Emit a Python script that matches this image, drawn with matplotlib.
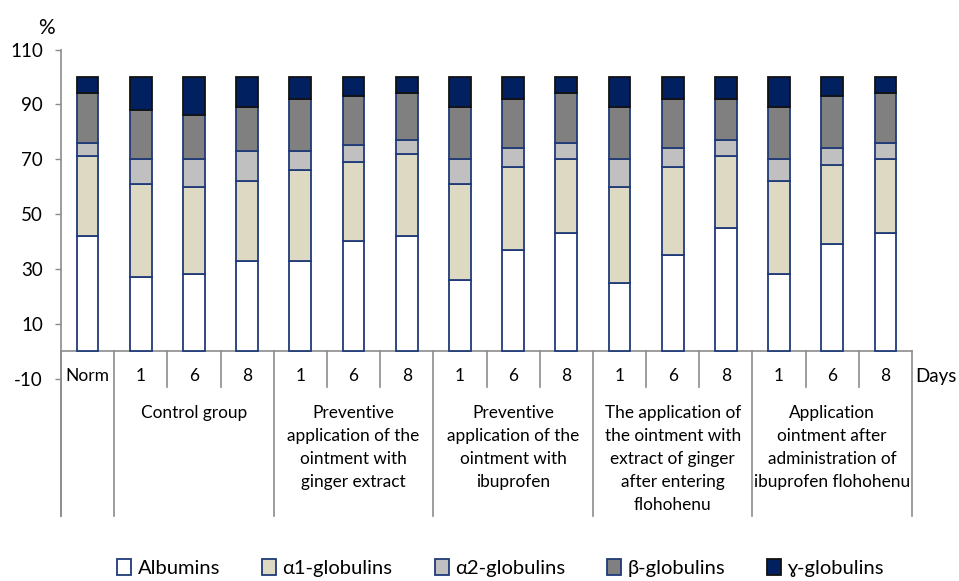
import matplotlib
matplotlib.use("Agg")
from matplotlib import pyplot as plt
from matplotlib.patches import Patch
import numpy as np

plt.rcParams['font.family'] = ['Lato', 'DejaVu Sans']
plt.rcParams['axes.unicode_minus'] = False

days = ["Norm", "1", "6", "8", "1", "6", "8", "1", "6", "8", "1", "6", "8", "1", "6", "8"]
groups = ["Control group",
          "Preventive\napplication of the\nointment with\nginger extract",
          "Preventive\napplication of the\nointment with\nibuprofen",
          "The application of\nthe ointment with\nextract of ginger\nafter entering\nflohohenu",
          "Application\nointment after\nadministration of\nibuprofen flohohenu"]
series = ["Albumins", "α1-globulins", "α2-globulins", "β-globulins", "ɣ-globulins"]

albumins = [42, 27, 28, 33, 33, 40, 42, 26, 37, 43, 25, 35, 45, 28, 39, 43]
alpha1 = [29, 34, 32, 29, 33, 29, 30, 35, 30, 27, 35, 32, 26, 34, 29, 27]
alpha2 = [5, 9, 10, 11, 7, 6, 5, 9, 7, 6, 10, 7, 6, 8, 6, 6]
beta = [18, 18, 16, 16, 19, 18, 17, 19, 18, 18, 19, 18, 15, 19, 19, 18]
gamma = [6, 12, 14, 11, 8, 7, 6, 11, 8, 6, 11, 8, 8, 11, 7, 6]

colors = ["#FFFFFF", "#DDD9C3", "#C0C0C0", "#808080", "#002060"]
edges = ["#1F3A78", "#1F3A78", "#1F3A78", "#1F3A78", "#111111"]
axis_col = "#8C8C8C"

fig = plt.figure(figsize=(9.59, 5.81), dpi=100)
ax = fig.add_axes([0.0636, 0.3485, 0.8874, 0.5663])

x = np.arange(len(days))
bottom = np.zeros(len(days))
for vals, c, e in zip([albumins, alpha1, alpha2, beta, gamma], colors, edges):
    ax.bar(x, vals, width=0.41, bottom=bottom, color=c, edgecolor=e, linewidth=1.3, zorder=3)
    bottom += np.array(vals)

ax.set_xlim(-0.5, len(days) - 0.5)
ax.set_ylim(-10, 110)
ax.set_yticks([-10, 10, 30, 50, 70, 90, 110])
ax.set_xticks([])
for s in ax.spines.values():
    s.set_visible(False)
ax.tick_params(axis='y', length=4, width=1, color=axis_col, pad=9, labelsize=13.5)

# left axis line, extended down through the category table
ax.plot([-0.5, -0.5], [-60, 110], color=axis_col, lw=1.2, clip_on=False)
ax.plot([-0.5, len(days) - 0.5], [0, 0], color=axis_col, lw=1.2, clip_on=False)

# category table
group_edges = [-0.5, 0.5, 3.5, 6.5, 9.5, 12.5, 15.5]
for k in range(len(days) + 1):
    xe = k - 0.5
    y_end = -60 if xe in group_edges else -13
    ax.plot([xe, xe], [0, y_end], color=axis_col, lw=1.2, clip_on=False)
for i, d in enumerate(days):
    ax.text(i, -9.1, d, ha='center', va='center', fontsize=12.5)
for g, (a, b) in zip(groups, zip(group_edges[1:-1], group_edges[2:])):
    ax.text((a + b) / 2, -19.6, g, ha='center', va='top', fontsize=12.4, linespacing=1.55)
ax.text(len(days) - 0.5 + 0.07, -9.1, "Days", ha='left', va='center', fontsize=13.5)

fig.text(46 / 959, 1 - 28 / 581, "%", ha='center', va='center', fontsize=15)

handles = [Patch(facecolor=c, edgecolor=e, linewidth=1.3) for c, e in zip(colors, edges)]
fig.legend(handles, series, loc='center', bbox_to_anchor=(0.522, 0.022), ncol=5,
           frameon=False, fontsize=14.5, handlelength=0.7, handleheight=0.8,
           handletextpad=0.3, columnspacing=2.1)

fig.savefig("out.png", dpi=100)
